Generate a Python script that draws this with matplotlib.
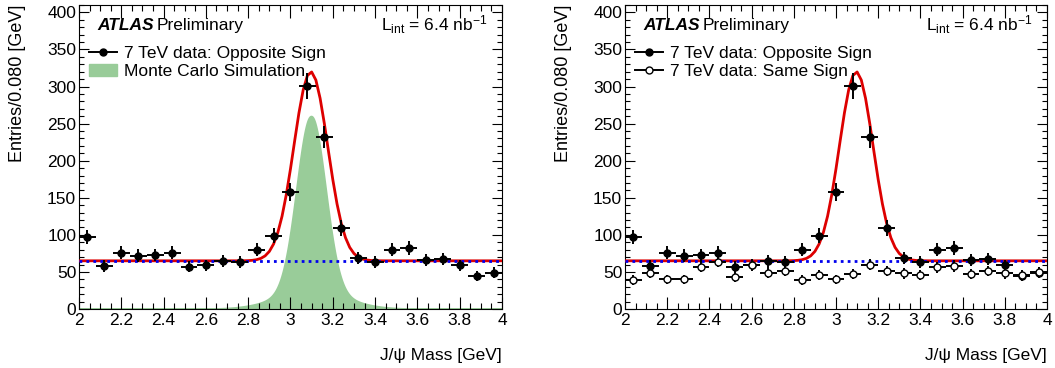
import matplotlib
matplotlib.use("Agg")
import matplotlib.pyplot as plt
import numpy as np
from matplotlib.ticker import MultipleLocator, FuncFormatter
from matplotlib.patches import Patch
from matplotlib.lines import Line2D

plt.rcParams['font.family'] = ['Liberation Sans', 'DejaVu Sans']
plt.rcParams['mathtext.fontset'] = 'custom'
plt.rcParams['mathtext.rm'] = 'Liberation Sans'
plt.rcParams['mathtext.it'] = 'Liberation Sans:italic'

# bin centres (width 0.080 GeV)
mass = [2.04, 2.12, 2.20, 2.28, 2.36, 2.44, 2.52, 2.60, 2.68, 2.76, 2.84, 2.92, 3.00,
        3.08, 3.16, 3.24, 3.32, 3.40, 3.48, 3.56, 3.64, 3.72, 3.80, 3.88, 3.96]
opposite_sign = [97, 58, 76, 72, 73, 76, 57, 59, 65, 63, 80, 99, 158,
                 301, 232, 109, 69, 63, 80, 82, 66, 67, 59, 44, 49]
same_sign = [39, 49, 40, 40, 57, 64, 43, 60, 49, 51, 39, 46, 40,
             47, 60, 51, 48, 46, 56, 58, 47, 51, 48, 46, 50]
bin_width = 0.08

# fit: flat background + gaussian signal
fit_bkg = 65.0
fit_amp = 255.0
fit_mean = 3.096
fit_sigma = 0.08

# MC signal shape (core + wide gaussian)
mc_core_amp, mc_core_sigma = 236.0, 0.067
mc_wide_amp, mc_wide_sigma = 24.0, 0.16
mc_mean = 3.097

green = '#99cc99'
fs = 12.5

fig = plt.figure(figsize=(10.55, 3.68), dpi=100)
ax1 = fig.add_axes([79/1055, 59/368, 423/1055, 304/368])
ax2 = fig.add_axes([625/1055, 59/368, 422/1055, 304/368])

x_fit = np.linspace(2, 4, 101)
y_fit = fit_bkg + fit_amp*np.exp(-0.5*((x_fit-fit_mean)/fit_sigma)**2)
x_mc = np.linspace(2, 4, 801)
y_mc = (mc_core_amp*np.exp(-0.5*((x_mc-mc_mean)/mc_core_sigma)**2)
        + mc_wide_amp*np.exp(-0.5*((x_mc-mc_mean)/mc_wide_sigma)**2))

def style_axes(ax):
    ax.set_xlim(2, 4)
    ax.set_ylim(0, 410)
    ax.xaxis.set_major_locator(MultipleLocator(0.2))
    ax.xaxis.set_minor_locator(MultipleLocator(0.05))
    ax.yaxis.set_major_locator(MultipleLocator(50))
    ax.yaxis.set_minor_locator(MultipleLocator(10))
    ax.xaxis.set_major_formatter(FuncFormatter(lambda v, p: '%g' % round(v, 2)))
    ax.tick_params(which='both', direction='in', top=True, right=True,
                   labelsize=fs, width=0.8)
    ax.tick_params(axis='x', which='major', length=9, pad=3)
    ax.tick_params(axis='x', which='minor', length=4.5)
    ax.tick_params(axis='y', which='major', length=7, pad=2)
    ax.tick_params(axis='y', which='minor', length=3.5)
    for s in ax.spines.values():
        s.set_linewidth(0.8)
    ax.set_ylabel('Entries/0.080 [GeV]', fontsize=13, loc='top')
    ax.yaxis.set_label_coords(-0.125, 1.0)
    ax.set_xlabel('J/\u03c8 Mass [GeV]', fontsize=fs, loc='right', labelpad=14)
    ax.text(0.043, 0.934, 'ATLAS', transform=ax.transAxes, fontsize=fs,
            fontweight='bold', fontstyle='italic', va='center')
    ax.text(0.184, 0.934, 'Preliminary', transform=ax.transAxes, fontsize=fs, va='center')
    ax.text(0.965, 0.934, r'L$_{\mathregular{int}}$ = 6.4 nb$^{\mathregular{-1}}$',
            transform=ax.transAxes, fontsize=fs, va='center', ha='right')

def draw_common(ax):
    ax.plot(x_fit, y_fit, color='#dd0000', lw=2, zorder=3)
    ax.plot([2, 4], [fit_bkg, fit_bkg], color='#0000ee', lw=2, ls=(0, (1, 1.5)), zorder=4)
    ax.errorbar(mass, opposite_sign, xerr=bin_width/2, yerr=np.sqrt(opposite_sign),
                fmt='o', color='black', ms=5, elinewidth=1.4, capsize=0, zorder=5)

# left panel
ax1.fill_between(x_mc, 0, y_mc, facecolor=green, edgecolor=green, lw=1.5, zorder=1)
draw_common(ax1)
style_axes(ax1)
h1 = [Line2D([], [], color='black', marker='o', ms=5, lw=1.4),
      Patch(color=green)]
ax1.legend(h1, ['7 TeV data: Opposite Sign', 'Monte Carlo Simulation'],
           loc='upper left', bbox_to_anchor=(0.0, 0.9), frameon=False,
           fontsize=fs, handlelength=1.6, handletextpad=0.4, labelspacing=0.15,
           borderaxespad=0.2)

# right panel
draw_common(ax2)
ax2.errorbar(mass, same_sign, xerr=bin_width/2, yerr=np.sqrt(same_sign),
             fmt='o', color='black', mfc='white', mec='black', ms=5,
             elinewidth=1.4, capsize=0, zorder=6)
style_axes(ax2)
h2 = [Line2D([], [], color='black', marker='o', ms=5, lw=1.4),
      Line2D([], [], color='black', marker='o', mfc='white', ms=5, lw=1.4)]
ax2.legend(h2, ['7 TeV data: Opposite Sign', '7 TeV data: Same Sign'],
           loc='upper left', bbox_to_anchor=(0.0, 0.9), frameon=False,
           fontsize=fs, handlelength=1.6, handletextpad=0.4, labelspacing=0.15,
           borderaxespad=0.2)

fig.savefig('out.png', dpi=100)
